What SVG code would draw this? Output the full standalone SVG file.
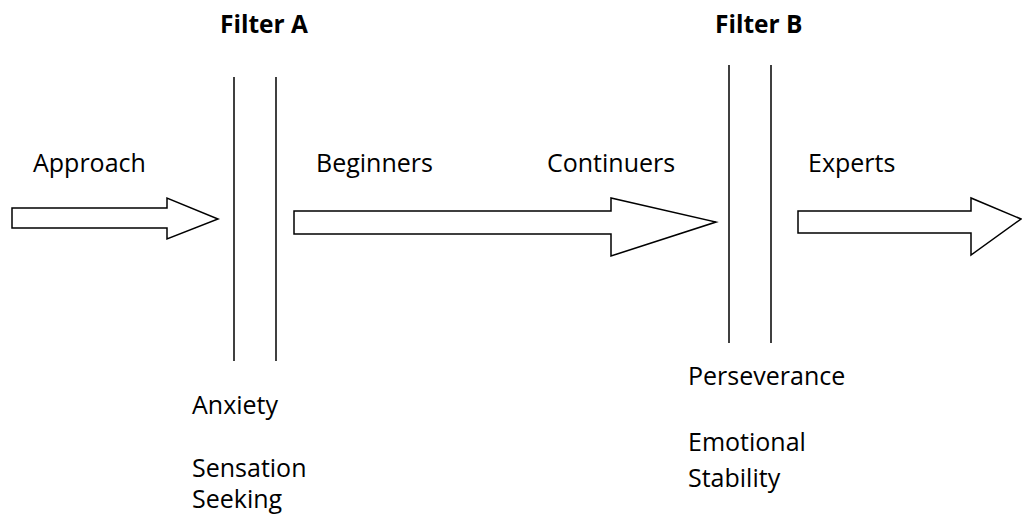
<svg xmlns="http://www.w3.org/2000/svg" width="1022" height="518" viewBox="0 0 1022 518">
<style>
text{font-family:"Open Sans","Liberation Sans",sans-serif;font-size:25px;fill:#000}
.b{font-weight:bold;font-size:24.5px}
.ar{fill:#fff;stroke:#000;stroke-width:1.5;stroke-linejoin:miter}
.ln{stroke:#000;stroke-width:1.5}
</style>
<rect width="1022" height="518" fill="#fff"/>
<g id="filterA">
<text class="b" x="220" y="33">Filter A</text>
<line class="ln" x1="234" y1="77" x2="234" y2="361"/>
<line class="ln" x1="276" y1="77" x2="276" y2="361"/>
<text x="192" y="414">Anxiety</text>
<text x="192" y="477">Sensation<tspan x="192" dy="31">Seeking</tspan></text>
</g>
<g id="filterB">
<text class="b" x="715" y="33">Filter B</text>
<line class="ln" x1="729" y1="65" x2="729" y2="343"/>
<line class="ln" x1="771" y1="65" x2="771" y2="343"/>
<text x="688" y="385">Perseverance</text>
<text x="688" y="451">Emotional<tspan x="688" dy="36">Stability</tspan></text>
</g>
<g id="labels">
<text x="33" y="172">Approach</text>
<text x="316" y="172">Beginners</text>
<text x="547" y="172">Continuers</text>
<text x="808" y="172">Experts</text>
</g>
<g id="connectors">
<polygon class="ar" points="12,208 167,208 167,198 218,219 167,239 167,228 12,228"/>
<polygon class="ar" points="294,211 611,211 611,198 716,222 611,256 611,234 294,234"/>
<polygon class="ar" points="798,211 971,211 971,198 1021,219 971,255 971,233 798,233"/>
</g>
</svg>
